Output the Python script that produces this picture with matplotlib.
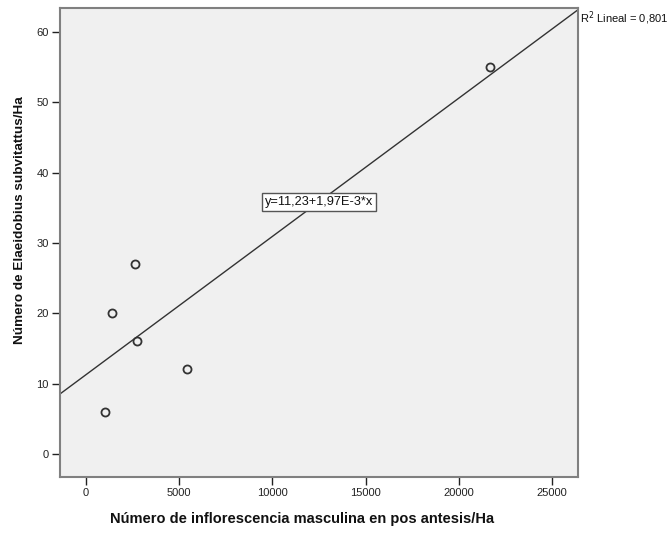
import numpy as np
import matplotlib
matplotlib.use("Agg")
import matplotlib.pyplot as plt

plt.rcParams['font.family'] = ['Liberation Sans', 'DejaVu Sans']

# Data
inflorescencias = [1034, 1426, 2625, 2748, 5443, 21660]
elaeidobius = [6, 20, 27, 16, 12, 55]
x_ticks = [0, 5000, 10000, 15000, 20000, 25000]
y_ticks = [0, 10, 20, 30, 40, 50, 60]
intercept = 11.23
slope = 1.97e-3
r2_text = "R$^2$ Lineal = 0,801"
eq_text = "y=11,23+1,97E-3*x"
x_label = "Número de inflorescencia masculina en pos antesis/Ha"
y_label = "Número de Elaeidobius subvitattus/Ha"

W, H = 670, 533
fig = plt.figure(figsize=(W / 100, H / 100), dpi=100)
ax = fig.add_axes([60 / W, 1 - 477 / H, (578 - 60) / W, (477 - 8.3) / H])
ax.set_facecolor('#F0F0F0')

xlim = (-1377, 26377)
ylim = (-3.3, 63.4)
ax.set_xlim(*xlim)
ax.set_ylim(*ylim)

xs = np.array(xlim)
ax.plot(xs, intercept + slope * xs, color='#333333', lw=1.0, zorder=2)
ax.plot(inflorescencias, elaeidobius, 'o', ms=5.8, mfc='none', mec='#333333', mew=1.3, zorder=3)

ax.set_xticks(x_ticks)
ax.set_yticks(y_ticks)
ax.tick_params(axis='both', direction='out', length=6, width=1, color='#222222',
               labelsize=8, labelcolor='#222222', pad=2)
for s in ax.spines.values():
    s.set_color('#808080')
    s.set_linewidth(1.5)

fig.text(319 / W, 1 - 202 / H, eq_text, ha='center', va='center', fontsize=9.2,
         color='#111111',
         bbox=dict(boxstyle='square,pad=0.25', fc='white', ec='#555555', lw=1.0))
fig.text(580 / W, 1 - 18 / H, r2_text, ha='left', va='center', fontsize=8, color='#111111')

fig.text(302 / W, 1 - 519 / H, x_label, ha='center', va='center', fontsize=10.5,
         fontweight='bold', color='#111111')
fig.text(20 / W, 1 - 220 / H, y_label, ha='center', va='center', rotation=90,
         fontsize=9.7, fontweight='bold', color='#111111')

fig.savefig('out.png', dpi=100, facecolor='white')
